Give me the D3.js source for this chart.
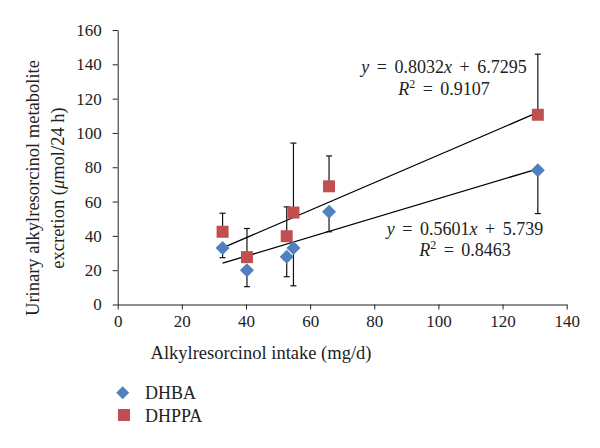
<!DOCTYPE html>
<html>
<head>
<meta charset="utf-8">
<script src="https://cdn.jsdelivr.net/npm/d3@7"></script>
<style>
  body { margin: 0; background: #fff; }
  svg text { font-family: "Liberation Serif", "DejaVu Serif", serif; fill: #222; }
</style>
</head>
<body>
<svg id="chart" width="600" height="448"></svg>
<script>
// intake (mg/d)
var intake = [32.7, 40.3, 52.7, 54.8, 65.9, 131.0];
// DHBA: mean and lower error
var dhba = [33.0, 20.0, 27.8, 33.0, 54.0, 78.2];
var dhbaErr = [5.7, 9.6, 11.6, 22.1, 11.6, 25.2];
// DHPPA: mean and upper error
var dhppa = [42.4, 27.6, 39.8, 53.6, 68.9, 110.6];
var dhppaErr = [10.8, 16.7, 17.1, 40.5, 17.7, 35.3];
// trend lines [slope, intercept]
var fitDhba = [0.5601, 5.739];
var fitDhppa = [0.8032, 6.7295];
var xTicks = [0, 20, 40, 60, 80, 100, 120, 140];
var yTicks = [0, 20, 40, 60, 80, 100, 120, 140, 160];

var serif = '"Liberation Serif", "DejaVu Serif", serif';
var svg = d3.select("#chart");
var x = d3.scaleLinear().domain([0, 140]).range([117.7, 566.7]);
var y = d3.scaleLinear().domain([0, 160]).range([304.5, 30]);
var blue = "#4f81bd", red = "#c0504d";

var xAxis = g => g
    .attr("transform", `translate(0,${y(0)})`)
    .call(d3.axisBottom(x).tickValues(xTicks).tickSize(5).tickPadding(5).tickSizeOuter(0));
var yAxis = g => g
    .attr("transform", `translate(${x(0)},0)`)
    .call(d3.axisLeft(y).tickValues(yTicks).tickSize(5).tickPadding(11).tickSizeOuter(0));

svg.append("g").call(xAxis);
svg.append("g").call(yAxis);
svg.selectAll(".domain, .tick line").attr("stroke", "#222").attr("stroke-width", 1);
svg.selectAll(".tick text").style("font-size", "17px").style("font-family", serif).attr("fill", "#222");

// error bars
function errBars(vals, errs, dir) {
    var g = svg.append("g").attr("stroke", "#111").attr("stroke-width", 1.2);
    vals.forEach(function(v, i) {
        var e = v + dir * errs[i];
        g.append("line").attr("x1", x(intake[i])).attr("x2", x(intake[i]))
            .attr("y1", y(v)).attr("y2", y(e));
        g.append("line").attr("x1", x(intake[i]) - 3).attr("x2", x(intake[i]) + 3)
            .attr("y1", y(e)).attr("y2", y(e));
    });
}
errBars(dhppa, dhppaErr, 1);
errBars(dhba, dhbaErr, -1);

// trend lines
[fitDhppa, fitDhba].forEach(function(f) {
    var x0 = d3.min(intake), x1 = d3.max(intake);
    svg.append("line")
        .attr("x1", x(x0)).attr("y1", y(f[0] * x0 + f[1]))
        .attr("x2", x(x1)).attr("y2", y(f[0] * x1 + f[1]))
        .attr("stroke", "#000").attr("stroke-width", 1.3);
});

// markers
svg.append("g").selectAll("rect")
    .data(dhppa).enter().append("rect")
    .attr("x", (d, i) => x(intake[i]) - 6)
    .attr("y", d => y(d) - 6)
    .attr("width", 12).attr("height", 12)
    .attr("fill", red);

var diamond = "M0,-7L7,0L0,7L-7,0Z";
svg.append("g").selectAll("path")
    .data(dhba).enter().append("path")
    .attr("d", diamond)
    .attr("transform", (d, i) => `translate(${x(intake[i])},${y(d)})`)
    .attr("fill", blue);

// equations
function equation(cx, cy, cy2, slope, icpt, r2) {
    var t = svg.append("text").attr("x", cx).attr("y", cy)
        .attr("text-anchor", "middle").style("font-size", "18px")
        .style("word-spacing", "3px");
    t.append("tspan").style("font-style", "italic").text("y");
    t.append("tspan").text(" = " + slope);
    t.append("tspan").style("font-style", "italic").text("x");
    t.append("tspan").text(" + " + icpt);
    var t2 = svg.append("text").attr("x", cx).attr("y", cy2)
        .attr("text-anchor", "middle").style("font-size", "18px")
        .style("word-spacing", "3px");
    t2.append("tspan").style("font-style", "italic").text("R");
    t2.append("tspan").attr("dy", -7).style("font-size", "12px").text("2");
    t2.append("tspan").attr("dy", 7).text(" = " + r2);
}
equation(444, 72.5, 95, "0.8032", "6.7295", "0.9107");
equation(465, 235, 255.5, "0.5601", "5.739", "0.8463");

// axis titles
svg.append("text")
    .attr("x", 261).attr("y", 359)
    .attr("text-anchor", "middle").style("font-size", "18.5px")
    .text("Alkylresorcinol intake (mg/d)");

var yt = svg.append("text")
    .attr("transform", "translate(39,188) rotate(-90)")
    .attr("text-anchor", "middle").style("font-size", "18.5px");
yt.append("tspan").attr("x", 0).attr("y", 0).text("Urinary alkylresorcinol metabolite");
var l2 = yt.append("tspan").attr("x", 0).attr("y", 25);
l2.append("tspan").text("excretion (");
l2.append("tspan").style("font-style", "italic").text("μ");
l2.append("tspan").text("mol/24 h)");

// legend
var leg = svg.append("g");
leg.append("path").attr("d", "M0,-6.5L6.5,0L0,6.5L-6.5,0Z")
    .attr("transform", "translate(122.7,392.7)").attr("fill", blue);
leg.append("rect").attr("x", 118).attr("y", 409).attr("width", 12).attr("height", 12)
    .attr("fill", red);
leg.append("text").attr("x", 145).attr("y", 398.5).style("font-size", "18px").text("DHBA");
leg.append("text").attr("x", 145).attr("y", 421.5).style("font-size", "18px").text("DHPPA");
</script>
</body>
</html>
